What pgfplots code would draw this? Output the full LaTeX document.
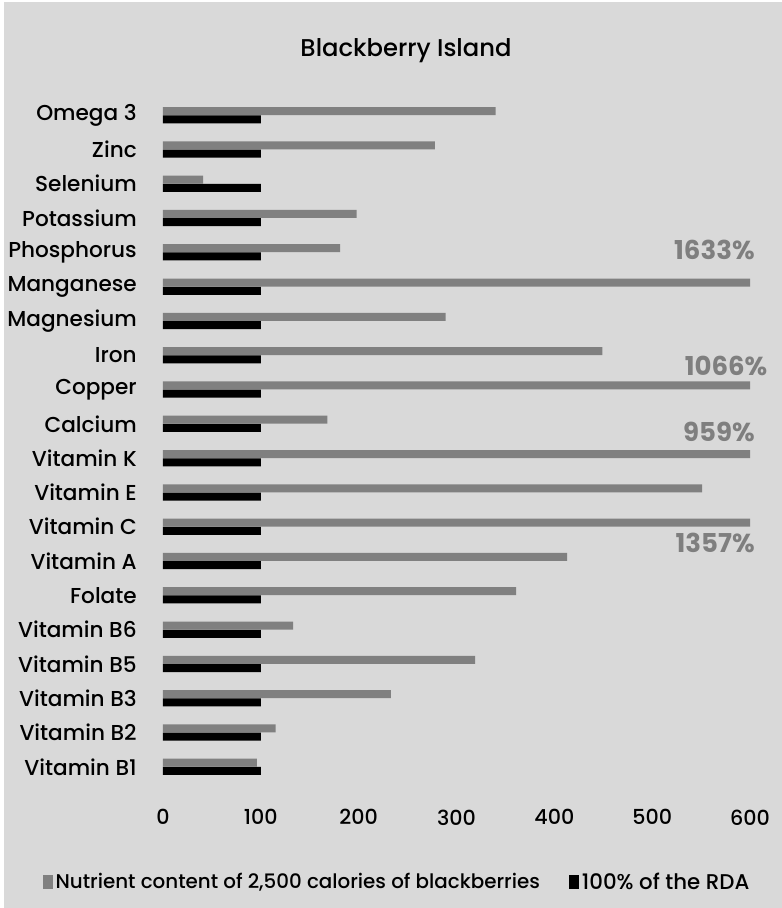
\documentclass[border=0pt]{standalone}
\usepackage{pgfplots}
\pgfplotsset{compat=1.18}
\usepackage{pgfplotstable}
\usepackage{fontspec}
\setmainfont{Poppins}[UprightFont={* Medium}, BoldFont={* Bold}]
\definecolor{bg}{HTML}{D9D9D9}
\definecolor{bargray}{HTML}{808080}
\definecolor{lblgray}{HTML}{7F7F7F}
\pgfplotstableread{
idx content rda
0 96 100
1 115 100
2 233 100
3 319 100
4 133 100
5 361 100
6 413 100
7 1357 100
8 551 100
9 959 100
10 168 100
11 1066 100
12 449 100
13 289 100
14 1633 100
15 181 100
16 198 100
17 41 100
18 278 100
19 340 100
}\datatable
\begin{document}
\begin{tikzpicture}
\fill[white] (0,0) rectangle (586.5pt,681pt);
\fill[bg] (3pt,0) rectangle (586.5pt,679.5pt);
\node[anchor=base, font=\fontsize{18.2}{20}\selectfont] at (304.5pt,638.5pt) {Blackberry Island};
\begin{axis}[
  at={(122.25pt,93pt)}, anchor=south west,
  scale only axis, width=440.25pt, height=514.5pt,
  xmin=0, xmax=600, ymin=-0.5, ymax=19.5,
  xbar, bar width=0.233,
  axis line style={draw=none},
  major tick length=0pt,
  xtick={0,100,...,600},
  ytick={0,...,19},
  yticklabels={Vitamin B1,Vitamin B2,Vitamin B3,Vitamin B5,Vitamin B6,Folate,Vitamin A,Vitamin C,Vitamin E,Vitamin K,Calcium,Copper,Iron,Magnesium,Manganese,Phosphorus,Potassium,Selenium,Zinc,Omega 3},
  yticklabel style={anchor=east, inner sep=0pt, xshift=-19.5pt, font=\fontsize{16.2}{18}\selectfont},
  xticklabel style={anchor=north, inner sep=0pt, yshift=-19pt, font=\fontsize{15.5}{18}\selectfont},
  /pgf/number format/assume math mode=true,
  clip mode=individual,
  legend style={at={(-0.205,-0.143)}, anchor=west, draw=none, fill=none, inner sep=0pt,
    font=\fontsize{14.9}{16}\selectfont, legend cell align=left,
    /tikz/every even column/.append style={column sep=20pt}},
  legend columns=2,
]
\addplot[fill=bargray, draw=none, bar shift=0.12,
  legend image code/.code={\fill[bargray] (0pt,-5.25pt) rectangle (7.5pt,5.25pt);}]
  table[x=content, y=idx] {\datatable};
\addlegendentry{Nutrient content of 2,500 calories of blackberries}
\addplot[fill=black, draw=none, bar shift=-0.12,
  legend image code/.code={\fill[black] (0pt,-5.25pt) rectangle (7.5pt,5.25pt);}]
  table[x=rda, y=idx] {\datatable};
\addlegendentry{\fontsize{16}{16}\selectfont 100\% of the RDA}
\node[anchor=east, font=\bfseries\fontsize{19.5}{20}\selectfont, text=lblgray, inner sep=0pt] at (axis cs:605,15.08) {1633\%};
\node[anchor=east, font=\bfseries\fontsize{19.5}{20}\selectfont, text=lblgray, inner sep=0pt] at (axis cs:618,11.70) {1066\%};
\node[anchor=east, font=\bfseries\fontsize{19.5}{20}\selectfont, text=lblgray, inner sep=0pt] at (axis cs:605,9.77) {959\%};
\node[anchor=east, font=\bfseries\fontsize{19.5}{20}\selectfont, text=lblgray, inner sep=0pt] at (axis cs:605,6.52) {1357\%};
\end{axis}
\pgfresetboundingbox
\useasboundingbox (0,0) rectangle (586.5pt,681pt);
\end{tikzpicture}
\end{document}
